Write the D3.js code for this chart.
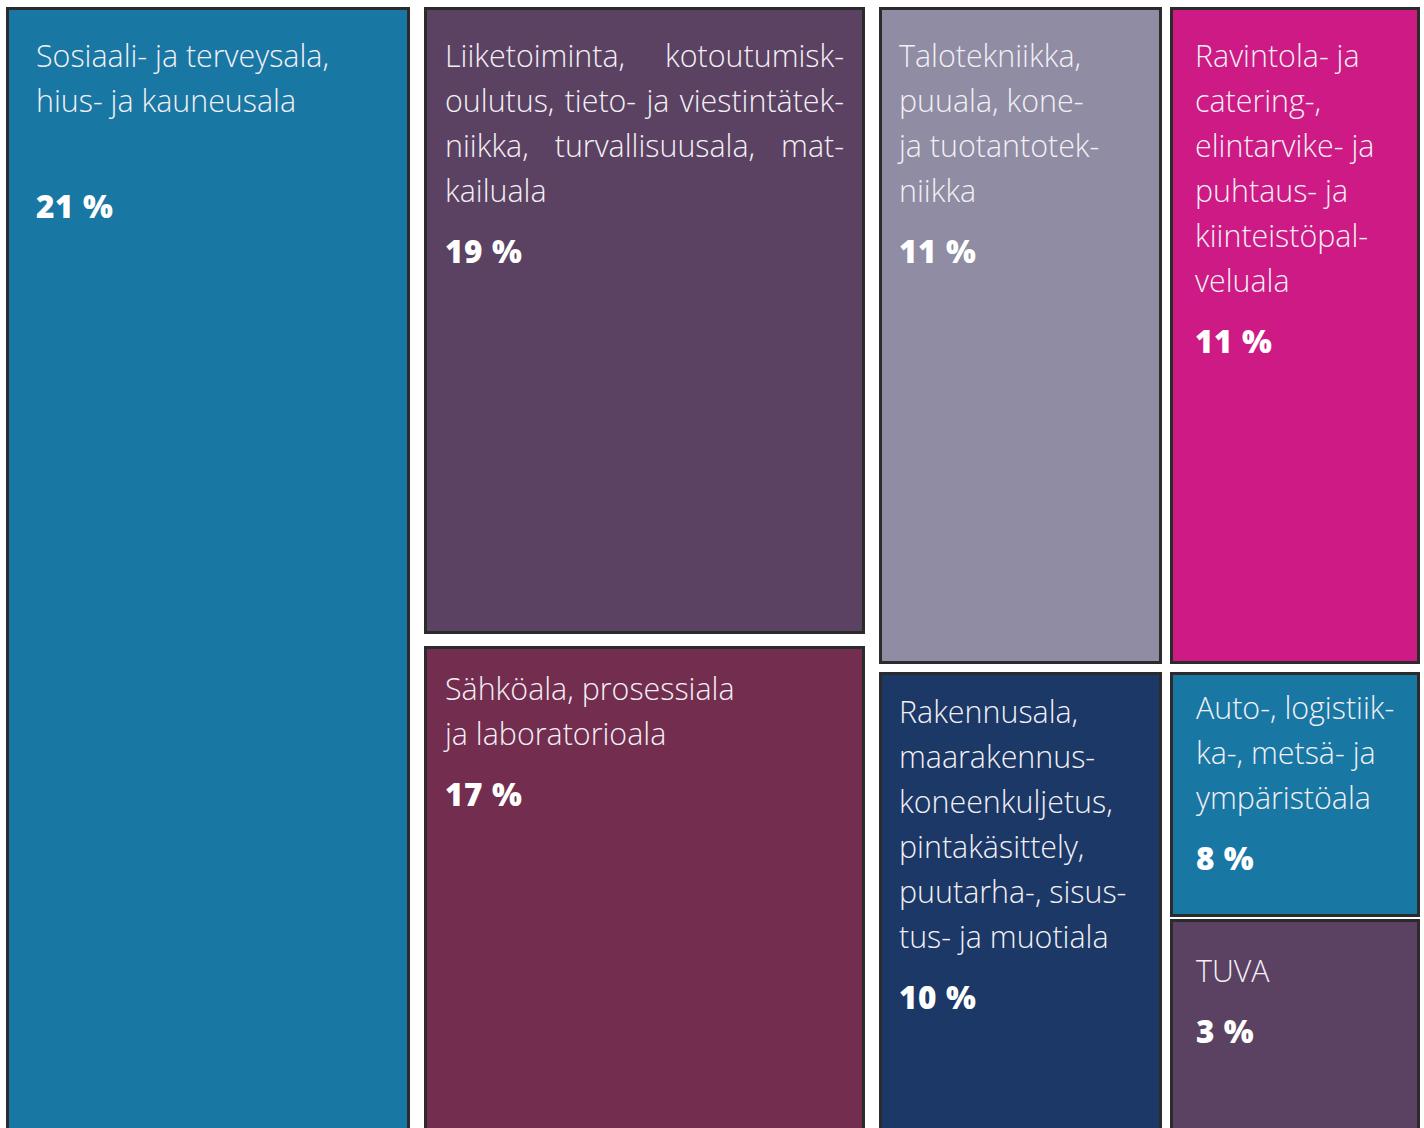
<!DOCTYPE html>
<html>
<head>
<meta charset="utf-8">
<script src="https://cdn.jsdelivr.net/npm/d3@7"></script>
<style>
  html, body { margin: 0; padding: 0; background: #fff; }
  svg { display: block; }
</style>
</head>
<body>
<svg id="tree" width="1424" height="1128"></svg>
<script>
// data
const categories = [
  "Sosiaali- ja terveysala, hius- ja kauneusala",
  "Liiketoiminta, kotoutumiskoulutus, tieto- ja viestintätekniikka, turvallisuusala, matkailuala",
  "Sähköala, prosessiala ja laboratorioala",
  "Talotekniikka, puuala, kone- ja tuotantotekniikka",
  "Ravintola- ja catering-, elintarvike- ja puhtaus- ja kiinteistöpalveluala",
  "Rakennusala, maarakennus- koneenkuljetus, pintakäsittely, puutarha-, sisustus- ja muotiala",
  "Auto-, logistiikka-, metsä- ja ympäristöala",
  "TUVA"
];
const shares = [21, 19, 17, 11, 11, 10, 8, 3];
const labelLines = [
  ["Sosiaali- ja terveysala,", "hius- ja kauneusala", ""],
  ["Liiketoiminta, kotoutumisk-", "oulutus, tieto- ja viestintätek-", "niikka, turvallisuusala, mat-", "kailuala"],
  ["Sähköala, prosessiala", "ja laboratorioala"],
  ["Talotekniikka,", "puuala, kone-", "ja tuotantotek-", "niikka"],
  ["Ravintola- ja", "catering-,", "elintarvike- ja", "puhtaus- ja", "kiinteistöpal-", "veluala"],
  ["Rakennusala,", "maarakennus-", "koneenkuljetus,", "pintakäsittely,", "puutarha-, sisus-", "tus- ja muotiala"],
  ["Auto-, logistiik-", "ka-, metsä- ja", "ympäristöala"],
  ["TUVA"]
];
const colors = ["#1977a3", "#5c4262", "#732d4f", "#8f8ca3", "#cd1a84", "#1b3866", "#1977a3", "#5c4262"];

// layout of the tiles (hand arranged, like the original)
const layout = {dir: "x", gap: 14, children: [
  {w: 404, cell: 0, px: 30, py: 49},
  {w: 441, dir: "y", gap: 12, children: [
    {w: 627, cell: 1, px: 21, py: 49, justify: true},
    {w: 489, cell: 2, px: 21, py: 43}
  ]},
  {w: 541, dir: "y", gap: 8, children: [
    {w: 657, dir: "x", gap: 8, children: [
      {w: 283, cell: 3, px: 20, py: 49},
      {w: 250, cell: 4, px: 25, py: 49}
    ]},
    {w: 463, dir: "x", gap: 8, children: [
      {w: 283, cell: 5, px: 20, py: 40},
      {w: 250, dir: "y", gap: 2, children: [
        {w: 245, cell: 6, px: 26, py: 36},
        {w: 216, cell: 7, px: 26, py: 52}
      ]}
    ]}
  ]}
]};

const svg = d3.select("#tree");
const lineH = 45;
const stroke = 3;

function tile(node, x0, y0, x1, y1) {
  const kids = node.children;
  const gap = node.data.gap || 0;
  const total = d3.sum(kids, c => c.data.w);
  const horiz = node.data.dir === "x";
  const span = (horiz ? x1 - x0 : y1 - y0) - gap * (kids.length - 1);
  const k = d3.scaleLinear().domain([0, total]).range([0, span]);
  let pos = horiz ? x0 : y0;
  kids.forEach(c => {
    const len = k(c.data.w);
    if (horiz) { c.x0 = pos; c.x1 = pos + len; c.y0 = y0; c.y1 = y1; }
    else { c.y0 = pos; c.y1 = pos + len; c.x0 = x0; c.x1 = x1; }
    pos += len + gap;
  });
}

const root = d3.hierarchy(layout).sum(d => d.children ? 0 : d.w);
d3.treemap().tile(tile).size([1414, 1128]).round(false)(root);

const g = svg.append("g").attr("transform", "translate(6,7)");

root.leaves().forEach(leaf => {
  const i = leaf.data.cell;
  const cell = g.append("g");

  cell.append("rect")
    .attr("x", leaf.x0 + stroke / 2).attr("y", leaf.y0 + stroke / 2)
    .attr("width", leaf.x1 - leaf.x0 - stroke).attr("height", leaf.y1 - leaf.y0 - stroke)
    .attr("fill", colors[i]).attr("stroke", "#2b2b2b").attr("stroke-width", stroke);

  const tx = leaf.x0 + leaf.data.px;
  const right = leaf.x1 - leaf.data.px;
  const base = leaf.y0 + leaf.data.py + 11;
  const lines = labelLines[i];

  lines.forEach((line, j) => {
    const t = cell.append("text")
      .attr("y", base + j * lineH)
      .attr("fill", "#f3f0f5")
      .style("font-family", "'Open Sans', sans-serif")
      .style("font-weight", 300)
      .style("font-size", "30.4px");
    const justify = leaf.data.justify && j < lines.length - 1;
    if (!justify) {
      t.attr("x", tx).text(line);
    } else {
      const words = line.split(" ");
      const spans = words.map(w => t.append("tspan").text(w));
      const widths = spans.map(s => s.node().getComputedTextLength());
      const space = (right - tx - d3.sum(widths)) / (words.length - 1);
      let x = tx;
      spans.forEach((s, m) => { s.attr("x", x); x += widths[m] + space; });
    }
  });

  cell.append("text")
    .attr("x", tx)
    .attr("y", base + (lines.length - 1) * lineH + 61)
    .attr("fill", "#ffffff")
    .style("font-family", "'Open Sans', sans-serif")
    .style("font-weight", 800)
    .style("font-size", "31.5px")
    .style("letter-spacing", "0.6px")
    .text(shares[i] + " %");
});
</script>
</body>
</html>
